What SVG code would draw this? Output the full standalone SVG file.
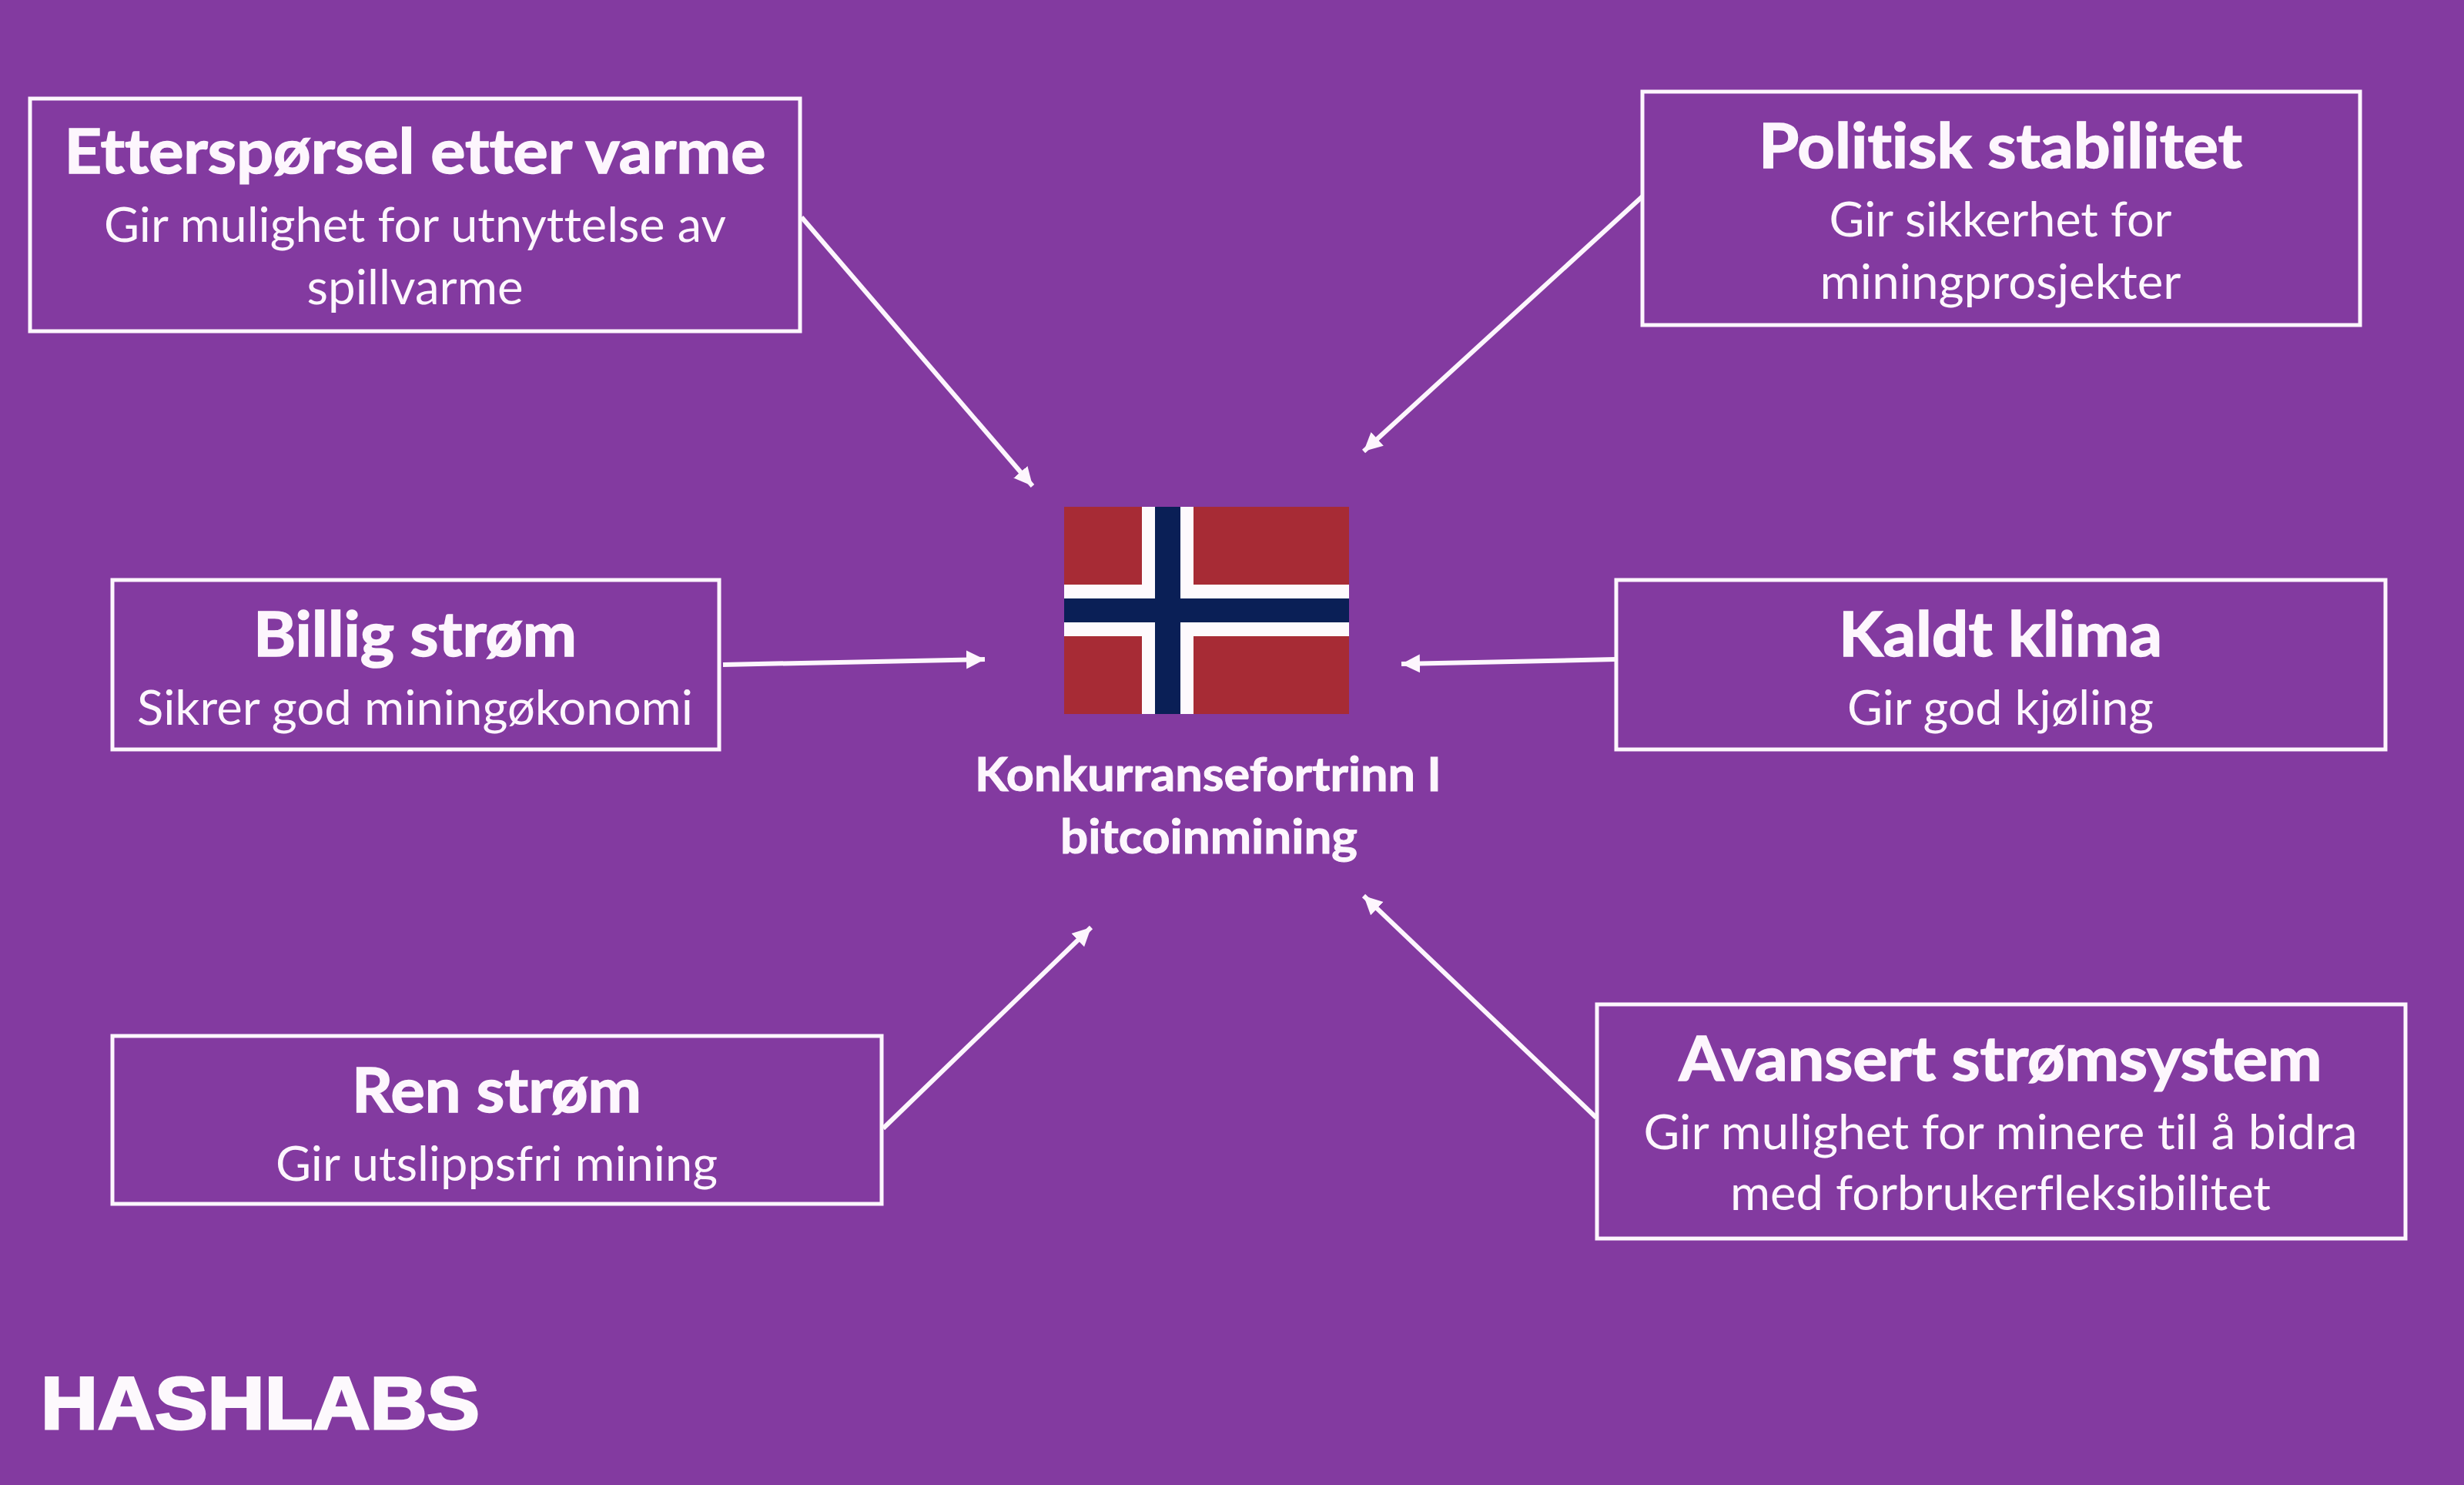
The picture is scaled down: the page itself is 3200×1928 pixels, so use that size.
<svg xmlns="http://www.w3.org/2000/svg" width="3200" height="1928" viewBox="0 0 3200 1928">
<style>
.box{fill:none;stroke:#fdf6fd;stroke-width:5}
.t{font-family:"Lato","Open Sans",sans-serif;fill:#fdf6fd;text-anchor:middle;font-variant-ligatures:none}
.h{font-size:80px;font-weight:700;stroke:#fdf6fd;stroke-width:1.5}
.s{font-size:62px;font-weight:400}
.c{font-size:62px;font-weight:700;stroke:#fdf6fd;stroke-width:1}
.arrow{stroke:#fdf6fd;stroke-width:6;fill:none;marker-end:url(#head)}
</style>
<defs>
<marker id="head" markerUnits="userSpaceOnUse" markerWidth="28" markerHeight="28" refX="24" refY="14" orient="auto">
<path d="M0 2L24 14L0 26Z" fill="#fdf6fd"/>
</marker>
</defs>
<rect id="background" width="3200" height="1928" fill="#833aa0"/>
<g id="connectors">
<line class="arrow" x1="1041" y1="282" x2="1341" y2="631"/>
<line class="arrow" x1="2133" y1="255" x2="1771" y2="586"/>
<line class="arrow" x1="939" y1="863" x2="1279" y2="856"/>
<line class="arrow" x1="2098" y1="856" x2="1820" y2="862"/>
<line class="arrow" x1="1147" y1="1465" x2="1417" y2="1204"/>
<line class="arrow" x1="2073" y1="1451" x2="1771" y2="1163"/>
</g>
<g id="node-varme">
<rect class="box" x="39" y="128" width="1000" height="302"/>
<text class="t h" x="539" y="225" textLength="911" lengthAdjust="spacingAndGlyphs">Etterspørsel etter varme</text>
<text class="t s" x="539" y="314" textLength="808" lengthAdjust="spacingAndGlyphs">Gir mulighet for utnyttelse av</text>
<text class="t s" x="539" y="395" textLength="281" lengthAdjust="spacingAndGlyphs">spillvarme</text>
</g>
<g id="node-politisk">
<rect class="box" x="2133" y="119" width="932" height="303"/>
<text class="t h" x="2598" y="218" textLength="628" lengthAdjust="spacingAndGlyphs">Politisk stabilitet</text>
<text class="t s" x="2598" y="307" textLength="445" lengthAdjust="spacingAndGlyphs">Gir sikkerhet for</text>
<text class="t s" x="2598" y="388" textLength="469" lengthAdjust="spacingAndGlyphs">miningprosjekter</text>
</g>
<g id="node-billig">
<rect class="box" x="146" y="753" width="788" height="220"/>
<text class="t h" x="539" y="852" textLength="420" lengthAdjust="spacingAndGlyphs">Billig strøm</text>
<text class="t s" x="539" y="941" textLength="722" lengthAdjust="spacingAndGlyphs">Sikrer god miningøkonomi</text>
</g>
<g id="node-kaldt">
<rect class="box" x="2099" y="753" width="999" height="220"/>
<text class="t h" x="2598" y="852" textLength="420" lengthAdjust="spacingAndGlyphs">Kaldt klima</text>
<text class="t s" x="2598" y="941" textLength="398" lengthAdjust="spacingAndGlyphs">Gir god kjøling</text>
</g>
<g id="node-ren">
<rect class="box" x="146" y="1345" width="999" height="218"/>
<text class="t h" x="645" y="1444" textLength="376" lengthAdjust="spacingAndGlyphs">Ren strøm</text>
<text class="t s" x="645" y="1533" textLength="574" lengthAdjust="spacingAndGlyphs">Gir utslippsfri mining</text>
</g>
<g id="node-avansert">
<rect class="box" x="2074" y="1304" width="1050" height="304"/>
<text class="t h" x="2598" y="1403" textLength="835" lengthAdjust="spacingAndGlyphs">Avansert strømsystem</text>
<text class="t s" x="2598" y="1492" textLength="927" lengthAdjust="spacingAndGlyphs">Gir mulighet for minere til å bidra</text>
<text class="t s" x="2598" y="1571" textLength="702" lengthAdjust="spacingAndGlyphs">med forbrukerfleksibilitet</text>
</g>
<g id="node-center">
<rect x="1382" y="658" width="370" height="269" fill="#a72b35"/>
<rect x="1483" y="658" width="67" height="269" fill="#fdf9fd"/>
<rect x="1382" y="759" width="370" height="67" fill="#fdf9fd"/>
<rect x="1500" y="658" width="33" height="269" fill="#0a1f56"/>
<rect x="1382" y="777" width="370" height="31" fill="#0a1f56"/>
<text class="t c" x="1569" y="1027" textLength="606" lengthAdjust="spacingAndGlyphs">Konkurransefortrinn I</text>
<text class="t c" x="1570" y="1108" textLength="386" lengthAdjust="spacingAndGlyphs">bitcoinmining</text>
</g>
<g id="logo">
<text x="53" y="1855" font-family="'Liberation Sans',Arial,sans-serif" font-weight="700" font-size="96" fill="#fdf9fd" stroke="#fdf9fd" stroke-width="3" textLength="570" lengthAdjust="spacingAndGlyphs">HASHLABS</text>
</g>
</svg>
